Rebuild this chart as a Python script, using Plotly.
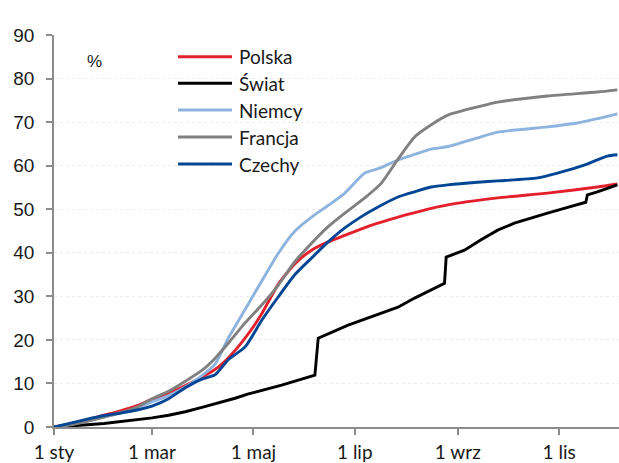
import plotly.graph_objects as go

# ---- data ----
polska_dates = ["2021-01-01","2021-01-11","2021-01-21","2021-01-31","2021-02-10","2021-02-20","2021-03-01",
                "2021-03-11","2021-03-21","2021-03-31","2021-04-10","2021-04-20","2021-04-30","2021-05-06",
                "2021-05-16","2021-05-26","2021-06-05","2021-06-15","2021-06-25","2021-07-05","2021-07-15",
                "2021-07-27","2021-08-26","2021-09-25","2021-10-25","2021-11-24","2021-12-06"]
polska_vals = [0,0.7,1.7,2.7,3.7,4.9,6.4,7.7,9.5,11.4,13.8,17.6,22.5,26,32.8,37.5,40.6,42.5,44,45.5,46.8,
               48.2,51,52.6,53.7,55.1,55.8]

swiat_dates = ["2021-01-01","2021-01-11","2021-01-21","2021-01-31","2021-02-10","2021-02-20","2021-03-01",
               "2021-03-11","2021-03-21","2021-03-31","2021-04-10","2021-04-20","2021-04-28","2021-05-18",
               "2021-06-07","2021-06-09","2021-06-27","2021-07-17","2021-07-27","2021-08-06","2021-08-24",
               "2021-08-25","2021-09-05","2021-09-15","2021-09-25","2021-10-05","2021-10-15","2021-10-25",
               "2021-11-04","2021-11-14","2021-11-17","2021-11-18","2021-11-24","2021-12-06"]
swiat_vals = [0,0.2,0.5,0.8,1.2,1.6,2.1,2.7,3.5,4.5,5.5,6.6,7.6,9.6,11.9,20.4,23.4,26.2,27.5,29.6,33,
              39,40.6,43,45.2,46.8,48,49.1,50.2,51.2,51.6,53.3,54,55.6]

niemcy_dates = ["2021-01-01","2021-01-11","2021-01-21","2021-01-31","2021-02-10","2021-02-20","2021-03-01",
                "2021-03-11","2021-03-21","2021-03-31","2021-04-08","2021-04-16","2021-04-26","2021-05-06",
                "2021-05-16","2021-05-26","2021-06-05","2021-06-17","2021-06-25","2021-07-07","2021-07-15",
                "2021-07-27","2021-08-06","2021-08-16","2021-08-26","2021-09-13","2021-09-25","2021-10-25",
                "2021-11-12","2021-11-24","2021-12-06"]
niemcy_vals = [0,0.6,1.4,2.3,3.2,4.2,5.8,7.2,9.2,11.8,14.5,20.5,27,33.5,39.9,45,48.2,51.4,53.7,58.3,59.3,
               61.3,62.6,63.8,64.4,66.4,67.7,68.9,69.8,70.8,71.9]

francja_dates = ["2021-01-01","2021-01-11","2021-01-21","2021-01-31","2021-02-10","2021-02-20","2021-03-01",
                 "2021-03-11","2021-03-21","2021-03-31","2021-04-08","2021-04-16","2021-04-26","2021-05-06",
                 "2021-05-16","2021-05-26","2021-06-05","2021-06-15","2021-06-25","2021-07-07","2021-07-17",
                 "2021-07-27","2021-08-06","2021-08-16","2021-08-26","2021-09-13","2021-09-25","2021-10-25",
                 "2021-11-24","2021-12-06"]
francja_vals = [0,0.5,1.3,2.3,3.3,4.6,6.5,8.2,10.5,13,15.8,19.3,23.9,28,32.6,38,42.2,46,49.1,52.6,56,
                61.5,66.6,69.4,71.6,73.5,74.6,76,76.9,77.4]

czechy_dates = ["2021-01-01","2021-01-11","2021-01-21","2021-01-31","2021-02-10","2021-02-20","2021-03-01",
                "2021-03-11","2021-03-21","2021-03-31","2021-04-08","2021-04-16","2021-04-26","2021-05-06",
                "2021-05-16","2021-05-26","2021-06-05","2021-06-15","2021-06-25","2021-07-05","2021-07-15",
                "2021-07-27","2021-08-06","2021-08-16","2021-08-26","2021-09-13","2021-09-25","2021-10-19",
                "2021-10-31","2021-11-16","2021-11-30","2021-12-06"]
czechy_vals = [0,0.9,1.8,2.6,3.2,3.9,4.8,6.5,9,11,12,15.5,18.4,24.5,29.9,35,38.8,42.5,45.7,48.3,50.5,
               52.8,54,55.1,55.6,56.2,56.5,57.2,58.3,60.1,62.2,62.5]

tick_vals = ["2021-01-01","2021-03-01","2021-05-01","2021-07-01","2021-09-01","2021-11-01"]
tick_text = ["1 sty","1 mar","1 maj","1 lip","1 wrz","1 lis"]

series = [
    ("Polska", polska_dates, polska_vals, "#e3202b", "spline"),
    ("Świat", swiat_dates, swiat_vals, "#000000", "linear"),
    ("Niemcy", niemcy_dates, niemcy_vals, "#8db3de", "spline"),
    ("Francja", francja_dates, francja_vals, "#808080", "spline"),
    ("Czechy", czechy_dates, czechy_vals, "#014694", "spline"),
]

# plot-area geometry in pixels (for the hand-placed legend)
L, R, T, B = 54, 619, 35, 427
W, H = R - L, B - T

def px(xp):
    return (xp - L) / W

def py(yp):
    return (B - yp) / H

fig = go.Figure()
for name, d, v, c, shp in series:
    line = dict(color=c, width=2.9, shape=shp)
    if shp == "spline":
        line["smoothing"] = 0.6
    fig.add_trace(go.Scatter(x=d, y=v, mode="lines", name=name, line=line, showlegend=False))

# legend (line samples + labels)
legend_rows = [56.7, 83.3, 110, 137, 164]
shapes = []
annotations = []
for (name, d, v, c, shp), yrow in zip(series, legend_rows):
    shapes.append(dict(type="line", xref="paper", yref="paper", x0=px(178), x1=px(232),
                       y0=py(yrow), y1=py(yrow), line=dict(color=c, width=3)))
    annotations.append(dict(text=name, xref="paper", yref="paper", x=px(237), y=py(yrow),
                            xanchor="left", yanchor="middle", showarrow=False,
                            font=dict(family="Lato, sans-serif", size=19, color="#1a1a1a")))
annotations.append(dict(text="%", xref="paper", yref="paper", x=px(94), y=py(61),
                        xanchor="center", yanchor="middle", showarrow=False,
                        font=dict(family="Liberation Sans, Arial, sans-serif", size=17, color="#1a1a1a")))

fig.update_layout(
    width=619, height=463,
    margin=dict(l=L, r=619 - R, t=T, b=463 - B, autoexpand=False),
    paper_bgcolor="white", plot_bgcolor="white",
    showlegend=False,
    xaxis=dict(range=["2021-01-01", "2021-12-07"], tickvals=tick_vals, ticktext=tick_text,
               showgrid=False, showline=True, linecolor="#8c8c8c", linewidth=1.5,
               ticks="outside", ticklen=6, tickcolor="#8c8c8c", tickwidth=1.5,
               tickfont=dict(family="Lato, sans-serif", size=19, color="#1a1a1a"),
               ticklabelstandoff=1, zeroline=False, automargin=False),
    yaxis=dict(range=[0, 90], tickvals=list(range(0, 91, 10)),
               showgrid=True, gridcolor="#ececec", gridwidth=1, griddash="dot",
               showline=True, linecolor="#8c8c8c", linewidth=1.5,
               ticks="outside", ticklen=6, tickcolor="#8c8c8c", tickwidth=1.5,
               tickfont=dict(family="Liberation Sans, Arial, sans-serif", size=19, color="#1a1a1a"),
               ticklabelstandoff=8, zeroline=False, automargin=False),
    shapes=shapes,
    annotations=annotations,
)

fig.write_html(
    "out.html",
    config={"responsive": False, "displayModeBar": False},
    post_script="document.body.style.margin='0';document.body.style.overflow='hidden';",
)
